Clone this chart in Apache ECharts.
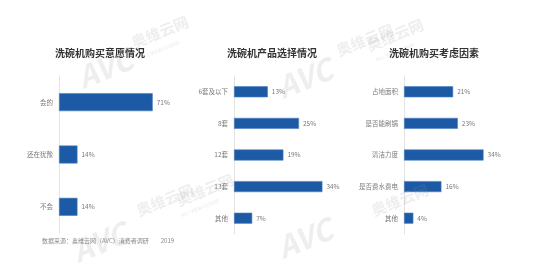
<!DOCTYPE html>
<html>
<head>
<meta charset="utf-8">
<script src="https://cdn.jsdelivr.net/npm/echarts@6/dist/echarts.min.js"></script>
<style>
  html, body { margin: 0; padding: 0; background: #fff; }
  #chart { width: 550px; height: 265px; }
</style>
</head>
<body>
<div id="chart"></div>
<script>
// Survey panels: purchase intent, capacity choice, purchase factors
const intentCats = ['会的', '还在犹豫', '不会'];
const intentVals = [71, 14, 14];

const sizeCats = ['6套及以下', '8套', '12套', '13套', '其他'];
const sizeVals = [13, 25, 19, 34, 7];

const factorCats = ['占地面积', '是否能刷锅', '清洁力度', '是否费水费电', '其他'];
const factorVals = [21, 23, 34, 16, 4];

const titles = ['洗碗机购买意愿情况', '洗碗机产品选择情况', '洗碗机购买考虑因素'];

const FONT = '"Noto Sans CJK SC", "Noto Sans", sans-serif';
const BAR = '#1d5aa6';

const grids = [
  { left: 59, top: 76, width: 132, height: 157 },
  { left: 234, top: 76, width: 130, height: 158 },
  { left: 404, top: 76, width: 117, height: 158 }
];
const maxes = [100, 50, 50];
const catSets = [intentCats, sizeCats, factorCats];
const valSets = [intentVals, sizeVals, factorVals];
const barWidths = [18, 11, 11];

const chart = echarts.init(document.getElementById('chart'), null, { renderer: 'canvas' });

// Watermark pieces
function mark(x, y, size, text, rot, weight) {
  return {
    type: 'text', x: x, y: y, rotation: rot * Math.PI / 180, silent: true, z: 100,
    style: {
      text: text, fill: 'rgba(150,150,150,0.16)',
      font: (weight || 'bold') + ' ' + size + 'px ' + FONT,
      align: 'center', verticalAlign: 'middle'
    }
  };
}
const graphics = [
  mark(105, 68, 30, 'AVC', 22, 'italic bold'),
  mark(160, 32, 15, '奥维云网', 22),
  mark(160, 50, 5, 'ALL VIEW CLOUD', 22),
  mark(305, 78, 30, 'AVC', 22, 'italic bold'),
  mark(365, 40, 15, '奥维云网', 22),
  mark(100, 242, 30, 'AVC', 22, 'italic bold'),
  mark(165, 200, 15, '奥维云网', 22),
  mark(305, 238, 30, 'AVC', 22, 'italic bold'),
  mark(205, 190, 15, '奥维云网', 22),
  mark(200, 208, 5, 'ALL VIEW CLOUD', 22),
  mark(400, 200, 15, '奥维云网', 22),
  mark(395, 35, 15, '奥维云网', 22),
  mark(395, 52, 5, 'ALL VIEW CLOUD', 22),
  {
    type: 'text', left: 42, top: 238, silent: true,
    style: { text: '数据来源：奥维云网（AVC）消费者调研　　2019', fill: '#8a8a8a', font: '6px ' + FONT }
  }
];

titles.forEach(function (t, i) {
  const g = grids[i];
  graphics.push({
    type: 'text', x: [100, 272, 434][i], y: 53,
    style: { text: t, fill: '#333', font: 'bold 10px ' + FONT, align: 'center', verticalAlign: 'middle' }
  });
});

const option = {
  animation: false,
  backgroundColor: '#fff',
  grid: grids,
  xAxis: grids.map(function (g, i) {
    return {
      type: 'value', gridIndex: i, min: 0, max: maxes[i],
      show: false
    };
  }),
  yAxis: grids.map(function (g, i) {
    return {
      type: 'category', gridIndex: i, data: catSets[i], inverse: true,
      axisLine: { show: true, lineStyle: { color: '#e3e3e3', width: 1 } },
      axisTick: { show: false },
      axisLabel: { color: '#7a7a7a', fontSize: 6.5, fontFamily: FONT, margin: 6 },
      splitLine: { show: false }
    };
  }),
  series: valSets.map(function (vals, i) {
    return {
      type: 'bar', xAxisIndex: i, yAxisIndex: i, data: vals,
      barWidth: barWidths[i],
      itemStyle: { color: BAR, borderColor: '#4a7fc0', borderWidth: 0.6 },
      label: {
        show: true, position: 'right', distance: 4,
        formatter: '{c}%', color: '#7a7a7a', fontSize: 6.5, fontFamily: FONT
      }
    };
  }),
  graphic: graphics
};

chart.setOption(option);
</script>
</body>
</html>
